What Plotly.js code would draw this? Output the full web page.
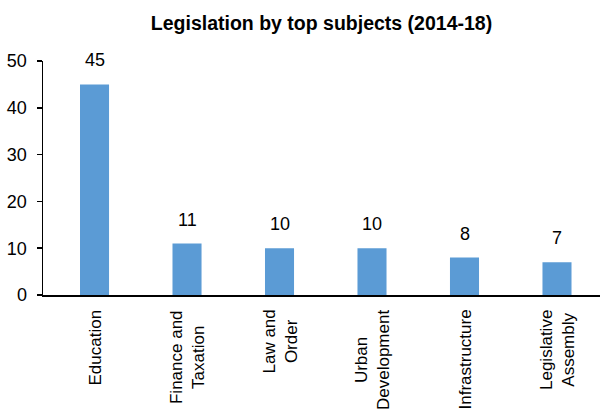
<!DOCTYPE html>
<html>
<head>
<meta charset="utf-8">
<script src="https://cdn.plot.ly/plotly-3.0.1.min.js"></script>
<style>html,body{margin:0;padding:0;background:#fff;}#chart{width:600px;height:410px;}</style>
</head>
<body>
<div id="chart"></div>
<script>
var categories = ["Education", "Finance and<br>Taxation", "Law and<br>Order", "Urban<br>Development", "Infrastructure", "Legislative<br>Assembly"];
var values = [45, 11, 10, 10, 8, 7];
var yTicks = [0, 10, 20, 30, 40, 50];

var FONT = "'Liberation Sans', Arial, sans-serif";
var catIdx = categories.map(function (c, i) { return i; });

var trace = {
  type: "bar",
  x: catIdx,
  y: values,
  marker: {color: "#5B9BD5"},
  hoverinfo: "none"
};

var annotations = [];
values.forEach(function (v, i) {
  annotations.push({
    x: catIdx[i], y: v, xref: "x", yref: "y",
    text: String(v), showarrow: false,
    xanchor: "center", yanchor: "bottom", yshift: 12,
    font: {family: FONT, size: 18, color: "#000"}
  });
});
categories.forEach(function (c, i) {
  annotations.push({
    x: catIdx[i], y: 0, xref: "x", yref: "paper",
    text: c, showarrow: false, textangle: -90, align: "center",
    xanchor: "center", yanchor: "top", yshift: -13,
    font: {family: FONT, size: 17, color: "#000"}
  });
});

var layout = {
  width: 600, height: 410,
  margin: {l: 43, r: 0, t: 61, b: 115, pad: 0},
  paper_bgcolor: "#fff", plot_bgcolor: "#fff",
  title: {
    text: "<b>Legislation by top subjects (2014-18)</b>",
    font: {family: FONT, size: 19.5, color: "#000"},
    x: 0.5, xref: "paper", xanchor: "center",
    y: 1 - 23 / 410, yref: "container", yanchor: "middle"
  },
  bargap: 0.686,
  showlegend: false,
  xaxis: {
    type: "linear",
    range: [-0.557, 5.465],
    showticklabels: false,
    ticks: "",
    showgrid: false, zeroline: false,
    showline: true, linecolor: "#000", linewidth: 1.5,
    fixedrange: true
  },
  yaxis: {
    range: [0, 50],
    tickvals: yTicks,
    ticktext: yTicks.map(String),
    ticks: "outside", ticklen: 5, tickwidth: 1.5, tickcolor: "#000",
    ticklabelstandoff: 6,
    showgrid: false, zeroline: false,
    showline: true, linecolor: "#000", linewidth: 1.5,
    tickfont: {family: FONT, size: 18, color: "#000"},
    fixedrange: true
  },
  annotations: annotations
};

Plotly.newPlot("chart", [trace], layout, {displayModeBar: false, staticPlot: true});
</script>
</body>
</html>
